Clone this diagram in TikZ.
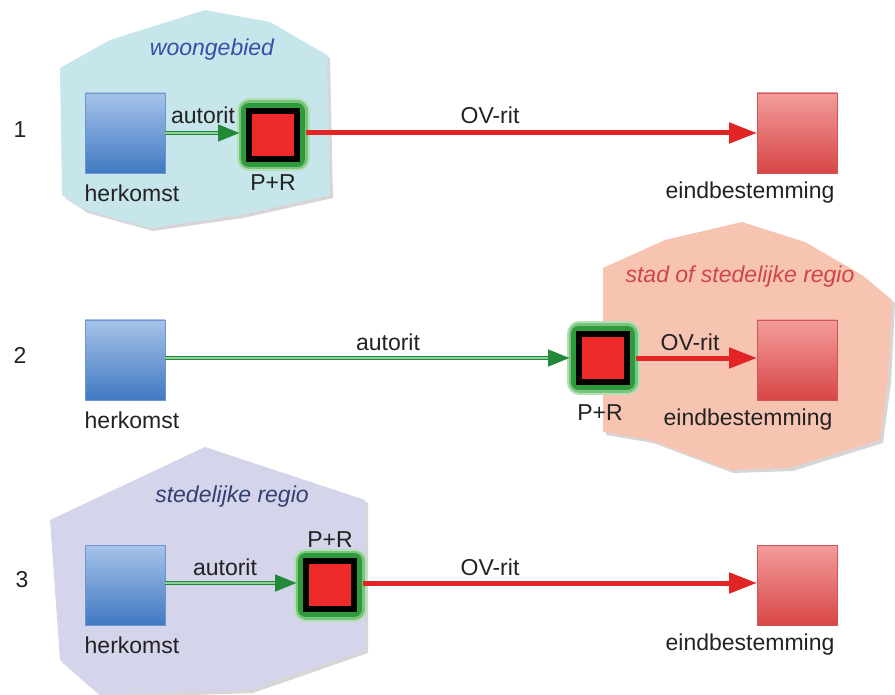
\documentclass[tikz,border=0pt]{standalone}
\usepackage{fontspec}
\setmainfont{Liberation Sans}
\usetikzlibrary{arrows.meta}
\definecolor{blobA}{HTML}{C7E6EC}
\definecolor{blobB}{HTML}{F8C4B2}
\definecolor{blobC}{HTML}{D4D4EA}
\definecolor{herkTop}{HTML}{A6C3EA}
\definecolor{herkBot}{HTML}{4079C2}
\definecolor{herkLine}{HTML}{6A95D0}
\definecolor{eindTop}{HTML}{F39C9C}
\definecolor{eindBot}{HTML}{D84646}
\definecolor{eindLine}{HTML}{D05656}
\definecolor{prRed}{HTML}{EE2A2A}
\definecolor{glowIn}{HTML}{2E9A3C}
\definecolor{glowOut}{HTML}{79C47E}
\definecolor{glowFar}{HTML}{B5DFB5}
\definecolor{garrowc}{HTML}{23893A}
\definecolor{gstripe}{HTML}{8FCF9A}
\definecolor{rarrowc}{HTML}{E32424}
\definecolor{txtA}{HTML}{3A4DA8}
\definecolor{txtB}{HTML}{D04545}
\definecolor{txtC}{HTML}{343F72}
\definecolor{txt}{HTML}{222222}
\tikzset{
  lab/.style={font=\fontsize{23}{26}\selectfont, text=txt, inner sep=0pt},
  region/.style={font=\fontsize{23}{26}\selectfont\itshape, inner sep=0pt},
  herk/.style={minimum size=80pt, inner sep=0pt, outer sep=0pt, top color=herkTop, bottom color=herkBot, draw=herkLine, line width=0.8pt},
  eind/.style={minimum size=80pt, inner sep=0pt, outer sep=0pt, top color=eindTop, bottom color=eindBot, draw=eindLine, line width=0.8pt},
  prbox/.style={minimum size=48pt, inner sep=0pt, outer sep=9pt, fill=prRed, draw=black, line width=6pt,
    preaction={draw=glowFar, line width=25pt, line join=round},
    preaction={draw=glowOut, line width=21pt, line join=round},
    preaction={draw=glowIn, line width=16pt, line join=round}},
  garrow/.style={draw=garrowc, line width=4.5pt, -{Triangle[length=22pt,width=16pt]},
    postaction={draw=gstripe, line width=1.3pt, shorten >=22pt, arrows=-}},
  rarrow/.style={draw=rarrowc, line width=5pt, -{Triangle[length=28pt,width=20pt]}},
  blobshadow/.style={fill=black!35, opacity=0.45},
}
\begin{document}
\begin{tikzpicture}[x=1pt,y=-1pt]
\useasboundingbox (0,0) rectangle (895,695);
\fill[white] (0,0) rectangle (895,695);
% regions
\fill[blobshadow] (63,71) -- (113,43) -- (208,13) -- (273,25) -- (330,58) -- (333,198) -- (243,218) -- (153,231) -- (88,213) -- (65,198) -- cycle;
\fill[blobA] (60,68) -- (110,40) -- (205,10) -- (270,22) -- (327,55) -- (330,195) -- (240,215) -- (150,228) -- (85,210) -- (62,195) -- cycle;
\fill[blobshadow] (606,271) -- (668,243) -- (745,225) -- (808,245) -- (865,278) -- (895,303) -- (891,383) -- (883,443) -- (793,471) -- (733,473) -- (653,443) -- (606,435) -- cycle;
\fill[blobB] (603,268) -- (665,240) -- (742,222) -- (805,242) -- (862,275) -- (892,300) -- (888,380) -- (880,440) -- (790,468) -- (730,470) -- (650,440) -- (603,432) -- cycle;
\fill[blobshadow] (53,523) -- (208,450) -- (368,503) -- (368,653) -- (253,693) -- (103,698) -- (63,663) -- cycle;
\fill[blobC] (50,520) -- (205,447) -- (365,500) -- (365,650) -- (250,690) -- (100,695) -- (60,660) -- cycle;
\node[region, text=txtA] (reg1) at (212,50) {woongebied};
\node[region, text=txtB] (reg2) at (740,277) {stad of stedelijke regio};
\node[region, text=txtC] (reg3) at (232,497) {stedelijke regio};
% row 1
\node[lab] (n1) at (20,130) {1};
\node[herk] (herk1) at (125,133) {};
\node[prbox] (pr1) at (273,135) {};
\node[eind] (eind1) at (797,133) {};
\draw[garrow] (herk1.east |- 0,133) -- (pr1.west |- 0,133);
\draw[rarrow] (pr1.east |- 0,133) -- (eind1.west |- 0,133);
\node[lab] (a1) at (203,115) {autorit};
\node[lab] (o1) at (490,115) {OV-rit};
\node[lab] (h1) at (132,193) {herkomst};
\node[lab] (p1) at (273,183) {P+R};
\node[lab] (e1) at (750,193) {eindbestemming};
% row 2
\node[lab] (n2) at (20,355) {2};
\node[herk] (herk2) at (125,360) {};
\node[prbox] (pr2) at (603,358) {};
\node[eind] (eind2) at (797,360) {};
\draw[garrow] (herk2.east |- 0,358) -- (pr2.west |- 0,358);
\draw[rarrow] (pr2.east |- 0,358) -- (eind2.west |- 0,358);
\node[lab] (a2) at (388,342) {autorit};
\node[lab] (o2) at (690,342) {OV-rit};
\node[lab] (h2) at (132,420) {herkomst};
\node[lab] (p2) at (600,413) {P+R};
\node[lab] (e2) at (748,420) {eindbestemming};
% row 3
\node[lab] (n3) at (22,580) {3};
\node[herk] (herk3) at (125,585) {};
\node[prbox] (pr3) at (330,585) {};
\node[eind] (eind3) at (797,585) {};
\draw[garrow] (herk3.east |- 0,583) -- (pr3.west |- 0,583);
\draw[rarrow] (pr3.east |- 0,583) -- (eind3.west |- 0,583);
\node[lab] (a3) at (225,567) {autorit};
\node[lab] (o3) at (490,567) {OV-rit};
\node[lab] (h3) at (132,645) {herkomst};
\node[lab] (p3) at (330,540) {P+R};
\node[lab] (e3) at (750,645) {eindbestemming};
\end{tikzpicture}
\end{document}
